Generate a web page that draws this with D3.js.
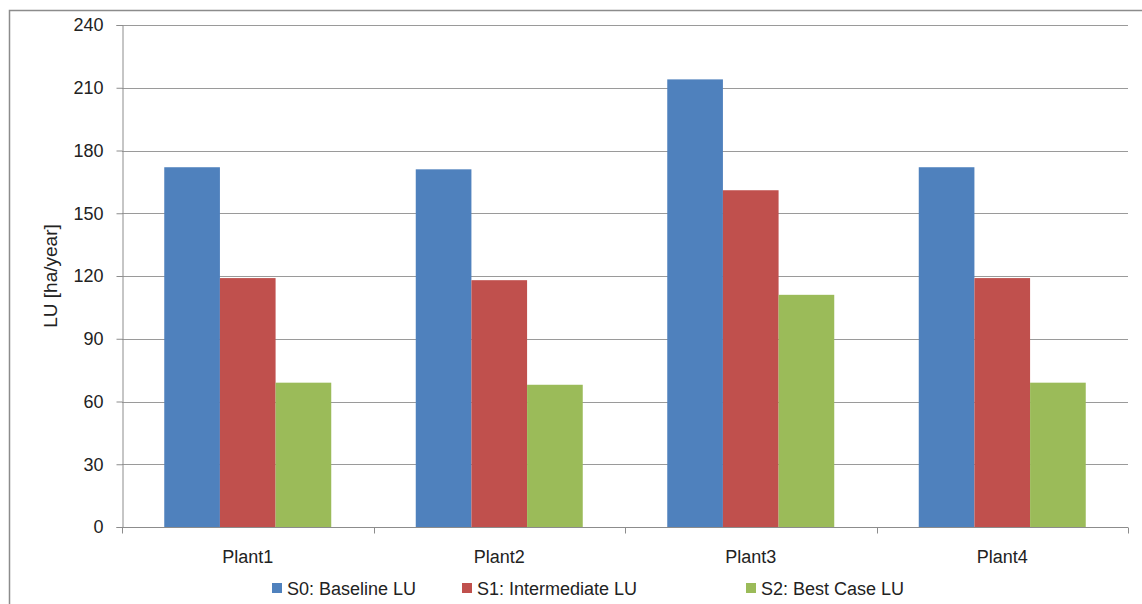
<!DOCTYPE html>
<html>
<head>
<meta charset="utf-8">
<script src="https://cdn.jsdelivr.net/npm/d3@7"></script>
<style>
  html, body { margin: 0; padding: 0; background: #fff; }
  svg text { font-family: "Liberation Sans", Arial, sans-serif; fill: #222; }
</style>
</head>
<body>
<svg id="chart" width="1142" height="604"></svg>
<script>
// Land use per plant under three scenarios (ha/year)
const categories = ["Plant1", "Plant2", "Plant3", "Plant4"];
const seriesNames = ["S0: Baseline LU", "S1: Intermediate LU", "S2: Best Case LU"];
const s0Baseline = [172, 171, 214, 172];
const s1Intermediate = [119, 118, 161, 119];
const s2BestCase = [69, 68, 111, 69];
const yTicks = [0, 30, 60, 90, 120, 150, 180, 210, 240];
const seriesColors = ["#4F81BD", "#C0504D", "#9BBB59"];

const seriesValues = [s0Baseline, s1Intermediate, s2BestCase];
const rows = categories.map((c, i) => ({
  category: c,
  values: seriesValues.map((vals, s) => ({ series: s, value: vals[i] }))
}));

const svg = d3.select("#chart");
const margin = { left: 122, right: 14, top: 25, bottom: 77 };
const W = 1142, H = 604;
const plotW = W - margin.left - margin.right;
const plotH = H - margin.top - margin.bottom;

// Outer chart frame
svg.append("rect")
  .attr("x", 9.5).attr("y", 10.5)
  .attr("width", W).attr("height", H)
  .attr("fill", "none").attr("stroke", "#8c8c8c").attr("stroke-width", 1.5);

const g = svg.append("g").attr("transform", `translate(${margin.left},${margin.top})`);

const x0 = d3.scaleBand().domain(categories).range([0, plotW]).paddingInner(0.336).paddingOuter(0.168);
const x1 = d3.scaleBand().domain(d3.range(seriesNames.length)).range([0, x0.bandwidth()]);
const y = d3.scaleLinear().domain([0, 240]).range([plotH, 0]);

// Horizontal gridlines
g.append("g").selectAll("line").data(yTicks.filter(t => t > 0)).join("line")
  .attr("x1", 0).attr("x2", plotW)
  .attr("y1", d => Math.round(y(d)) + 0.5).attr("y2", d => Math.round(y(d)) + 0.5)
  .attr("stroke", "#9a9a9a").attr("stroke-width", 1);

// Bars
g.append("g").selectAll("g").data(rows).join("g")
  .attr("transform", d => `translate(${x0(d.category)},0)`)
  .selectAll("rect").data(d => d.values).join("rect")
  .attr("x", d => x1(d.series))
  .attr("width", x1.bandwidth())
  .attr("y", d => y(d.value))
  .attr("height", d => y(0) - y(d.value))
  .attr("fill", d => seriesColors[d.series]);

// Y axis
const yAxis = d3.axisLeft(y).tickValues(yTicks).tickSize(6).tickPadding(13).tickFormat(d3.format("d"));
const ya = g.append("g").attr("transform", "translate(0.5,0)").call(yAxis);
ya.select(".domain").attr("stroke", "#8c8c8c");
ya.selectAll(".tick line").attr("stroke", "#8c8c8c");
ya.selectAll(".tick text").attr("font-size", 18).attr("fill", "#222");

// X axis with ticks on category boundaries
const xa = g.append("g").attr("transform", `translate(0,${plotH + 0.5})`);
xa.append("line").attr("x1", 0).attr("x2", plotW).attr("stroke", "#8c8c8c");
const step = x0.step();
xa.selectAll("line.tk").data(d3.range(categories.length + 1)).join("line")
  .attr("class", "tk")
  .attr("x1", i => Math.round(i * step) + 0.5).attr("x2", i => Math.round(i * step) + 0.5)
  .attr("y1", 0).attr("y2", 6).attr("stroke", "#8c8c8c");
xa.selectAll("text").data(categories).join("text")
  .attr("x", d => x0(d) + x0.bandwidth() / 2)
  .attr("y", 35)
  .attr("text-anchor", "middle")
  .attr("font-size", 18)
  .text(d => d);

// Y axis title
svg.append("text")
  .attr("transform", `translate(57,${margin.top + plotH / 2}) rotate(-90)`)
  .attr("text-anchor", "middle")
  .attr("font-size", 19)
  .text("LU [ha/year]");

// Legend
const legendX = [272, 462, 746];
const legend = svg.append("g").selectAll("g").data(seriesNames).join("g")
  .attr("transform", (d, i) => `translate(${legendX[i]},583)`);
legend.append("rect").attr("width", 10).attr("height", 10)
  .attr("fill", (d, i) => seriesColors[i]);
legend.append("text").attr("x", 15).attr("y", 11.5).attr("font-size", 18).text(d => d);
</script>
</body>
</html>
